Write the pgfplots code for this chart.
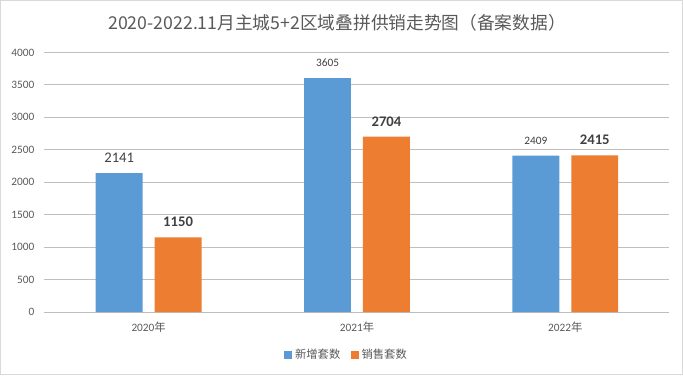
\documentclass[border=0pt]{standalone}
\usepackage{pgfplots}
\pgfplotsset{compat=1.18}
\usepackage{fontspec}
\setmainfont{Carlito}
\newfontfamily\cjk{Noto Sans CJK SC}
\definecolor{cblue}{HTML}{5B9BD5}
\definecolor{corange}{HTML}{ED7D31}
\definecolor{tgray}{HTML}{595959}
\definecolor{lgray}{HTML}{404040}
\definecolor{grid}{HTML}{D9D9D9}
\begin{document}
\begin{tikzpicture}
\begin{axis}[
  at={(0,0)}, anchor=south west,
  scale only axis,
  width=469.5pt, height=195pt,
  ybar,
  xmin=-0.5, xmax=2.5,
  ymin=0, ymax=4000,
  ytick={0,500,...,4000},
  xtick={0,1,2},
  xticklabels={2020{\cjk 年},2021{\cjk 年},2022{\cjk 年}},
  separate axis lines,
  axis x line*=bottom,
  axis y line*=left,
  x axis line style={draw=grid!70!gray, -, line width=0.8pt},
  y axis line style={draw=none},
  ymajorgrids, xmajorgrids=false,
  grid style={grid, line width=0.8pt},
  major tick length=0pt,
  tick label style={font=\fontsize{8.5}{10}\selectfont, text=tgray},
  yticklabel style={xshift=-4pt},
  ytick style={draw=none}, xtick style={draw=none},
  /pgf/number format/assume math mode=true,
  y tick label style={/pgf/number format/.cd, 1000 sep={}},
  xticklabel style={yshift=-4pt},
  bar width=35.25pt,
  point meta=explicit symbolic,
  nodes near coords,
  nodes near coords style={text=lgray, anchor=center, yshift=11.5pt},
  legend style={at={(0.484,-0.165)}, anchor=center, draw=none, legend columns=2,
    font=\cjk\fontsize{8.5}{10}\selectfont, text=tgray,
    /tikz/every even column/.append style={column sep=6pt}},
  legend image code/.code={\fill[#1] (0pt,-3pt) rectangle (6pt,3pt);},
  clip=false,
]
\addplot[bar shift=-22.125pt, fill=cblue, draw=none] coordinates {
  (0,2141) [\fontsize{11}{12}\selectfont 2141]
  (1,3605) [\fontsize{8.5}{10}\selectfont 3605]
  (2,2409) [\fontsize{8.5}{10}\selectfont 2409]
};
\addlegendentry{新增套数}
\addplot[bar shift=22.125pt, fill=corange, draw=none] coordinates {
  (0,1150) [\fontsize{11}{12}\selectfont\bfseries 1150]
  (1,2704) [\fontsize{11}{12}\selectfont\bfseries 2704]
  (2,2415) [\fontsize{11}{12}\selectfont\bfseries 2415]
};
\addlegendentry{销售套数}
\end{axis}
\draw[grid, line width=0.8pt] (-33pt,-47.25pt) rectangle (479.25pt,234pt);
\node[text=tgray, font=\cjk\fontsize{13.3}{15}\selectfont] at (219.75pt,217.5pt) {2020-2022.11月主城5+2区域叠拼供销走势图（备案数据）};
\end{tikzpicture}
\end{document}
